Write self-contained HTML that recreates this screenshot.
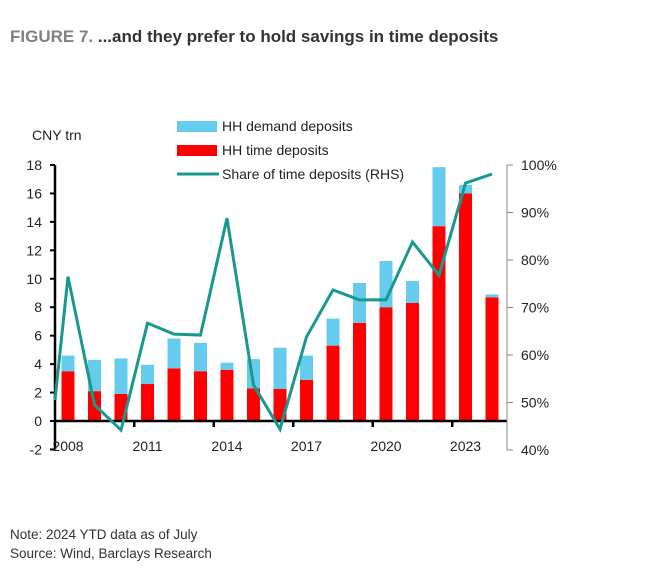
<!DOCTYPE html>
<html><head><meta charset="utf-8"><style>
body{margin:0;background:#fff;}
#wrap{position:relative;width:660px;height:580px;font-family:"Liberation Sans",sans-serif;}
#title{position:absolute;left:10px;top:27px;font-size:17px;font-weight:bold;color:#333;white-space:nowrap;letter-spacing:0px;}
#title span{color:#808080;}
.note{position:absolute;left:10px;font-size:13.5px;color:#333;white-space:nowrap;}
</style></head><body>
<div id="wrap">
<div id="title"><span>FIGURE 7.</span> ...and they prefer to hold savings in time deposits</div>
<svg id="chart" width="660" height="580" style="position:absolute;left:0;top:0"></svg>
<div class="note" style="top:527px">Note: 2024 YTD data as of July</div>
<div class="note" style="top:546px">Source: Wind, Barclays Research</div>
</div>
<script>
const years=[2008,2009,2010,2011,2012,2013,2014,2015,2016,2017,2018,2019,2020,2021,2022,2023,2024];
const timeDep=[3.5,2.1,1.9,2.6,3.7,3.5,3.6,2.3,2.25,2.9,5.3,6.9,8.0,8.3,13.7,16.0,8.7];
const demandDep=[1.1,2.2,2.5,1.35,2.1,2.0,0.5,2.05,2.9,1.7,1.9,2.8,3.25,1.55,4.15,0.6,0.2];
const shareStart=50.5;
const share=[76.5,49.5,44.2,66.7,64.4,64.2,88.8,53.7,44.4,63.8,73.7,71.6,71.6,83.8,76.8,96.2,98.1];
const leftTicks=[-2,0,2,4,6,8,10,12,14,16,18];
const rightTicks=[40,50,60,70,80,90,100];
const xLabels=[2008,2011,2014,2017,2020,2023];

const svg=document.getElementById('chart');
const NS='http://www.w3.org/2000/svg';
function mk(t,a,p){const e=document.createElementNS(NS,t);for(const k in a)e.setAttribute(k,a[k]);(p||svg).appendChild(e);return e;}
const x0=55,x1=507;
const yL=v=>421-v*(256/18);
const yR=v=>450-(v-40)*(285/60);
const xC=i=>68+i*26.5;
const bw=13;

years.forEach((y,i)=>{
  const r=mk('rect',{x:xC(i)-bw/2,y:yL(timeDep[i]),width:bw,height:yL(0)-yL(timeDep[i]),fill:'#ff0000'});
  
  
  const d=mk('rect',{x:xC(i)-bw/2,y:yL(timeDep[i]+demandDep[i]),width:bw,height:yL(timeDep[i])-yL(timeDep[i]+demandDep[i]),fill:'#66ccee'});
  
  
});
const la=mk('line',{x1:x0,y1:yL(18),x2:x0,y2:yL(-2),stroke:'#000','stroke-width':2.5});


leftTicks.forEach(v=>{
  mk('line',{x1:x0-5,y1:yL(v),x2:x0,y2:yL(v),stroke:'#000','stroke-width':2});
  const t=mk('text',{x:42,y:yL(v)+5,'text-anchor':'end','font-size':14,fill:'#222'});
  t.textContent=v;
  
  
});
const zl=mk('line',{x1:x0,y1:yL(0),x2:x1,y2:yL(0),stroke:'#000','stroke-width':2.5});


xLabels.forEach((y,k)=>{
  const i=years.indexOf(y);
  if(k>0) mk('line',{x1:xC(i)-13.25,y1:yL(0),x2:xC(i)-13.25,y2:yL(0)+6,stroke:'#000','stroke-width':2.5});
  const t=mk('text',{x:xC(i),y:451,'text-anchor':'middle','font-size':14,fill:'#222'});
  t.textContent=y;
  
  
});
const ra=mk('line',{x1:x1,y1:yR(100),x2:x1,y2:yR(40),stroke:'#888','stroke-width':1});


rightTicks.forEach(v=>{
  mk('line',{x1:x1,y1:yR(v),x2:x1+6,y2:yR(v),stroke:'#888','stroke-width':1});
  const t=mk('text',{x:521,y:yR(v)+5,'font-size':14,fill:'#222'});
  t.textContent=v+'%';
  
  
});
let pts=[[x0,yR(shareStart)]];
share.forEach((v,i)=>pts.push([xC(i),yR(v)]));
const pl=mk('polyline',{points:pts.map(p=>p.join(',')).join(' '),fill:'none',stroke:'#17998e','stroke-width':3,'stroke-linejoin':'miter'});


const u=mk('text',{x:32,y:140,'font-size':14,fill:'#222'});u.textContent='CNY trn';


const leg=mk('g',{});


mk('rect',{x:177,y:121,width:40,height:11,fill:'#66ccee'},leg);
mk('rect',{x:177,y:145,width:40,height:11,fill:'#ff0000'},leg);
mk('line',{x1:177,y1:174,x2:219,y2:174,stroke:'#17998e','stroke-width':3},leg);
[['HH demand deposits',131],['HH time deposits',155],['Share of time deposits (RHS)',179]].forEach(([s,y])=>{
  const t=mk('text',{x:222,y:y,'font-size':14,fill:'#222'},leg);t.textContent=s;
  
  
});
</script>
</body></html>
